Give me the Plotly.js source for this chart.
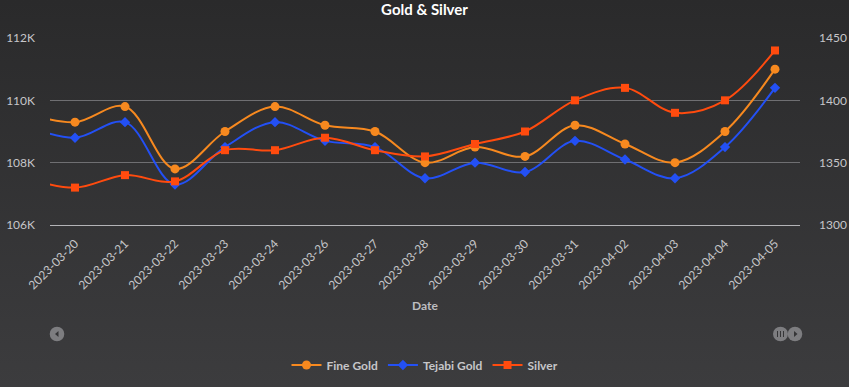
<!DOCTYPE html>
<html>
<head>
<meta charset="utf-8">
<script src="https://cdn.plot.ly/plotly-3.0.1.min.js"></script>
<style>
  html, body { margin: 0; padding: 0; }
  body { background: linear-gradient(to bottom, #2a2a2b 0%, #3c3c3e 100%); width: 849px; height: 387px; overflow: hidden; }
  #chart { width: 849px; height: 387px; }
</style>
</head>
<body>
<div id="chart"></div>
<script>
// Categories (first one is partly scrolled out of view, as in the reference)
const dates = ['2023-03-19','2023-03-20','2023-03-21','2023-03-22','2023-03-23','2023-03-24','2023-03-26','2023-03-27','2023-03-28','2023-03-29','2023-03-30','2023-03-31','2023-04-02','2023-04-03','2023-04-04','2023-04-05'];
// Series values
const fineGold   = [109600, 109300, 109800, 107800, 109000, 109800, 109200, 109000, 108000, 108500, 108200, 109200, 108600, 108000, 109000, 111000];
const tejabiGold = [109200, 108800, 109300, 107300, 108500, 109300, 108700, 108500, 107500, 108000, 107700, 108700, 108100, 107500, 108500, 110400];
const silver     = [1338, 1330, 1340, 1335, 1360, 1360, 1370, 1360, 1355, 1365, 1375, 1400, 1410, 1390, 1400, 1440];
// Tick labels
const goldTicks = [106000, 108000, 110000, 112000];
const goldTickText = ['106K', '108K', '110K', '112K'];
const silverTicks = [1300, 1350, 1400, 1450];

const FONT = 'Lato, "Open Sans", sans-serif';
const LABEL = '#c6c6c9';

const traces = [
  { x: dates, y: fineGold, name: 'Fine Gold', type: 'scatter', mode: 'lines+markers',
    line: { color: '#f7891f', width: 2, shape: 'spline', smoothing: 1 },
    marker: { symbol: 'circle', size: 9, color: '#f7891f' } },
  { x: dates, y: tejabiGold, name: 'Tejabi Gold', type: 'scatter', mode: 'lines+markers',
    line: { color: '#2350f5', width: 2, shape: 'spline', smoothing: 1 },
    marker: { symbol: 'diamond', size: 8, color: '#2350f5' } },
  { x: dates, y: silver, name: 'Silver', type: 'scatter', mode: 'lines+markers', yaxis: 'y2',
    line: { color: '#ff4b0e', width: 2, shape: 'spline', smoothing: 1 },
    marker: { symbol: 'square', size: 8, color: '#ff4b0e' } }
];

const BY = (225 - 334) / 187; // scrollbar row in paper coords
function px(x) { return (x - 50) / 750; }
const btn = '#7d7d80', glyph = '#353537';

const shapes = [
  { type: 'circle', xref: 'paper', yref: 'paper', xsizemode: 'pixel', ysizemode: 'pixel',
    xanchor: px(57), yanchor: BY, x0: -7.3, x1: 7.3, y0: -7.3, y1: 7.3, fillcolor: btn, line: { width: 0 } },
  { type: 'path', xref: 'paper', yref: 'paper', xsizemode: 'pixel', ysizemode: 'pixel',
    xanchor: px(57), yanchor: BY, path: 'M 1.5,-3 L -2,0 L 1.5,3 Z', fillcolor: glyph, line: { width: 0 } },
  { type: 'circle', xref: 'paper', yref: 'paper', xsizemode: 'pixel', ysizemode: 'pixel',
    xanchor: px(780.5), yanchor: BY, x0: -7.5, x1: 7.5, y0: -7.3, y1: 7.3, fillcolor: btn, line: { width: 0 } },
  { type: 'circle', xref: 'paper', yref: 'paper', xsizemode: 'pixel', ysizemode: 'pixel',
    xanchor: px(795), yanchor: BY, x0: -7.3, x1: 7.3, y0: -7.3, y1: 7.3, fillcolor: btn, line: { width: 0 } },
  { type: 'path', xref: 'paper', yref: 'paper', xsizemode: 'pixel', ysizemode: 'pixel',
    xanchor: px(780.5), yanchor: BY, path: 'M -3,-3 L -3,3 M 0,-3 L 0,3 M 3,-3 L 3,3', line: { color: glyph, width: 1 } },
  { type: 'path', xref: 'paper', yref: 'paper', xsizemode: 'pixel', ysizemode: 'pixel',
    xanchor: px(795.5), yanchor: BY, path: 'M -1.5,-3 L 2,0 L -1.5,3 Z', fillcolor: glyph, line: { width: 0 } }
];

const layout = {
  width: 849, height: 387,
  paper_bgcolor: 'rgba(0,0,0,0)', plot_bgcolor: 'rgba(0,0,0,0)',
  margin: { l: 50, r: 49, t: 38, b: 162, autoexpand: false },
  font: { family: FONT, color: LABEL, size: 12 },
  title: { text: '<b>Gold & Silver</b>', x: 0.5, xanchor: 'center', y: 0.974, yanchor: 'middle', yref: 'container',
           font: { family: FONT, size: 15, color: '#ffffff' } },
  showlegend: true,
  legend: { orientation: 'h', x: 0.5, xanchor: 'center', y: (225 - 365) / 187, yanchor: 'middle',
            bgcolor: 'rgba(0,0,0,0)', font: { family: FONT, size: 12, color: LABEL, weight: 'bold' }, itemwidth: 30 },
  xaxis: {
    type: 'category', range: [0.5, 15.5], tickangle: -45, showgrid: false, zeroline: false, automargin: false,
    showline: true, linecolor: '#b4b4b7', linewidth: 1, ticks: '', ticklabelstandoff: 6,
    tickfont: { family: FONT, size: 12, color: LABEL },
    title: { text: '<b>Date</b>', standoff: 10, font: { family: FONT, size: 12, color: '#bdbdc0' } }
  },
  yaxis: {
    range: [106000, 112000], tickvals: goldTicks, ticktext: goldTickText, showgrid: true, gridcolor: '#6f6f72',
    gridwidth: 1, zeroline: false, showline: false, ticks: '', ticklabelstandoff: 14, automargin: false,
    tickfont: { family: FONT, size: 12, color: LABEL }
  },
  yaxis2: {
    range: [1300, 1450], tickvals: silverTicks, overlaying: 'y', side: 'right', showgrid: false,
    zeroline: false, showline: false, ticks: '', ticklabelstandoff: 18, automargin: false,
    tickfont: { family: FONT, size: 12, color: LABEL }
  },
  shapes: shapes
};

Plotly.newPlot('chart', traces, layout, { displayModeBar: false, responsive: false });
</script>
</body>
</html>
